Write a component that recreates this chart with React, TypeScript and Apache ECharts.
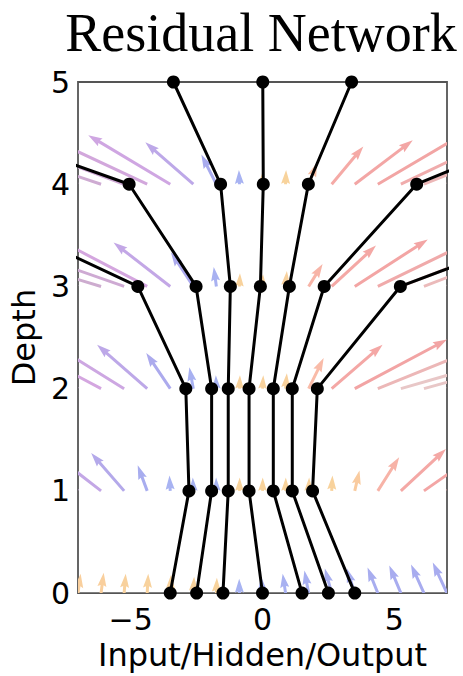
import React, { useEffect, useRef } from "react";
import * as echarts from "echarts";

// Depth levels of the network (y axis)
const DEPTHS = [0, 1, 2, 3, 4, 5];

// Hidden-state trajectories: value at depth 0..5
const TRAJ_1 = [-3.5, -2.79, -2.91, -4.73, -13.0, -24.0];
const TRAJ_2 = [-2.5, -1.93, -1.93, -2.52, -5.06, -16.0];
const TRAJ_3 = [-1.5, -1.3, -1.3, -1.22, -1.59, -3.38];
const TRAJ_4 = [0.0, -0.51, -0.51, -0.08, 0.03, 0.01];
const TRAJ_5 = [1.5, 0.41, 0.41, 1.02, 1.74, 3.38];
const TRAJ_6 = [2.5, 1.13, 1.13, 2.34, 5.85, 15.3];
const TRAJ_7 = [3.5, 1.9, 2.08, 5.23, 15.5, 24.0];
const TRAJECTORIES = [TRAJ_1, TRAJ_2, TRAJ_3, TRAJ_4, TRAJ_5, TRAJ_6, TRAJ_7];

// Quiver grid (x positions of arrow tails)
const QUIVER_X = [-7, -6.125, -5.25, -4.375, -3.5, -2.625, -1.75, -0.875, 0, 0.875, 1.75, 2.625, 3.5, 4.375, 5.25, 6.125, 7];
const QUIVER_DEPTHS = [0, 1, 2, 3, 4];

// Arrow vectors [u, v] (data units) per depth row
const ARROWS_D0 = [[0.1, 0.19], [0.1, 0.2], [0.06, 0.19], [0.04, 0.19], [0.03, 0.18], [0.03, 0.16], [0.02, 0.15], [-0.01, 0.14], [-0.05, 0.16], [-0.11, 0.19], [-0.16, 0.22], [-0.26, 0.24], [-0.3, 0.24], [-0.39, 0.25], [-0.44, 0.27], [-0.49, 0.28], [-0.54, 0.3]];
const ARROWS_D1 = [[-2.8, 0.45], [-2.1, 0.42], [-1.25, 0.37], [-0.36, 0.25], [-0.03, 0.15], [-0.02, 0.13], [-0.01, 0.13], [0.01, 0.13], [0.01, 0.13], [0.01, 0.13], [0.02, 0.13], [0.03, 0.15], [0.18, 0.2], [0.81, 0.33], [1.71, 0.41], [2.6, 0.47], [3.5, 0.5]];
const ARROWS_D2 = [[-5.0, 0.55], [-4.0, 0.55], [-3.0, 0.48], [-1.9, 0.43], [-0.91, 0.35], [-0.15, 0.21], [-0.02, 0.13], [0.02, 0.13], [0.03, 0.13], [0.05, 0.15], [0.57, 0.3], [1.93, 0.43], [3.5, 0.48], [4.8, 0.5], [6.2, 0.46], [7.0, 0.5], [8.0, 0.5]];
const ARROWS_D3 = [[-7.2, 0.5], [-6.3, 0.49], [-5.3, 0.48], [-3.7, 0.5], [-2.15, 0.43], [-0.85, 0.335], [-0.1, 0.19], [0.02, 0.13], [0.02, 0.12], [0.05, 0.15], [0.53, 0.22], [1.68, 0.4], [2.77, 0.46], [3.9, 0.49], [5.0, 0.5], [5.5, 0.55], [7.0, 0.55]];
const ARROWS_D4 = [[-7.4, 0.56], [-6.4, 0.55], [-5.4, 0.52], [-4.3, 0.52], [-3.11, 0.48], [-1.82, 0.41], [-0.57, 0.29], [-0.02, 0.14], [0.0, 0.12], [0.02, 0.14], [0.32, 0.21], [1.2, 0.37], [2.2, 0.43], [3.3, 0.5], [4.3, 0.53], [5.3, 0.55], [6.3, 0.56]];
const ARROW_ROWS = [ARROWS_D0, ARROWS_D1, ARROWS_D2, ARROWS_D3, ARROWS_D4];

// Tick labels
const X_TICKS = [-5, 0, 5];
const TITLE = "Residual Network";
const X_NAME = "Input/Hidden/Output";
const Y_NAME = "Depth";

// colour of an arrow as a function of its on-screen angle (deg from vertical, + = right)
const COLOR_STOPS: [number, number[]][] = [
  [-90, [222, 208, 222]],
  [-74, [204, 172, 206]],
  [-62, [212, 166, 224]],
  [-48, [188, 168, 232]],
  [-30, [168, 170, 238]],
  [-0.001, [168, 180, 242]],
  [0, [248, 212, 156]],
  [12, [249, 204, 158]],
  [25, [249, 188, 168]],
  [40, [245, 170, 166]],
  [62, [242, 164, 164]],
  [72, [232, 196, 196]],
  [90, [232, 220, 220]],
];
function arrowColor(theta: number): string {
  if (theta <= COLOR_STOPS[0][0]) return `rgb(${COLOR_STOPS[0][1].join(",")})`;
  for (let i = 1; i < COLOR_STOPS.length; i++) {
    const [t1, c1] = COLOR_STOPS[i];
    const [t0, c0] = COLOR_STOPS[i - 1];
    if (theta <= t1) {
      const f = t1 === t0 ? 1 : (theta - t0) / (t1 - t0);
      const c = c0.map((v, j) => Math.round(v + (c1[j] - v) * f));
      return `rgb(${c.join(",")})`;
    }
  }
  const last = COLOR_STOPS[COLOR_STOPS.length - 1][1];
  return `rgb(${last.join(",")})`;
}

export default function App() {
  const ref = useRef<HTMLDivElement>(null);
  useEffect(() => {
    if (!ref.current) return;
    const chart = echarts.init(ref.current, undefined, { renderer: "svg" });

    const quiverData: number[][] = [];
    QUIVER_DEPTHS.forEach((d, r) => {
      ARROW_ROWS[r].forEach((uv, k) => {
        quiverData.push([QUIVER_X[k], d, uv[0], uv[1]]);
      });
    });

    const lineSeries = TRAJECTORIES.map((tr) => ({
      type: "line",
      data: tr.map((x, i) => [x, DEPTHS[i]]),
      symbol: "circle",
      symbolSize: 13,
      showSymbol: true,
      clip: true,
      z: 5,
      itemStyle: { color: "#000" },
      lineStyle: { color: "#000", width: 3 },
      emphasis: { disabled: true },
    }));

    const option = {
      animation: false,
      backgroundColor: "#fff",
      grid: {
        left: 78,
        right: 16,
        top: 82,
        bottom: 72,
        show: true,
        borderColor: "#555",
        borderWidth: 1.8,
        backgroundColor: "transparent",
      },
      graphic: [
        {
          type: "text",
          x: 261,
          y: 33,
          style: {
            text: TITLE,
            font: "54px 'Liberation Serif'",
            fill: "#000",
            align: "center",
            verticalAlign: "middle",
          },
        },
      ],
      xAxis: {
        type: "value",
        min: -7,
        max: 7,
        interval: 1,
        name: X_NAME,
        nameLocation: "middle",
        nameGap: 42,
        nameTextStyle: { fontFamily: "DejaVu Sans", fontSize: 32, color: "#000" },
        axisLine: { show: false },
        axisTick: { show: false },
        splitLine: { show: false },
        axisLabel: {
          fontFamily: "DejaVu Sans",
          fontSize: 30,
          color: "#000",
          margin: 11,
          formatter: (v: number) =>
            X_TICKS.includes(v) ? (v < 0 ? "\u2212" + Math.abs(v) : String(v)) : "",
        },
      },
      yAxis: {
        type: "value",
        min: 0,
        max: 5,
        interval: 1,
        name: Y_NAME,
        nameLocation: "middle",
        nameGap: 37,
        nameTextStyle: { fontFamily: "DejaVu Sans", fontSize: 32, color: "#000" },
        axisLine: { show: false },
        axisTick: { show: false },
        splitLine: { show: false },
        axisLabel: { fontFamily: "DejaVu Sans", fontSize: 30, color: "#000", margin: 8 },
      },
      series: [
        {
          type: "custom",
          clip: true,
          z: 1,
          data: quiverData,
          encode: { x: 0, y: 1 },
          renderItem: (params: any, api: any) => {
            const x = api.value(0);
            const y = api.value(1);
            const u = api.value(2);
            const v = api.value(3);
            const p0 = api.coord([x, y]);
            const p1 = api.coord([x + u, y + v]);
            const dx = p1[0] - p0[0];
            const dy = p1[1] - p0[1];
            const L = Math.hypot(dx, dy);
            if (L < 0.5) return null;
            let sw = 3, hl = 14, hal = 12.6, hw = 9;
            if (L < hl) {
              const s = L / hl;
              sw *= s; hl *= s; hal *= s; hw *= s;
            }
            const ux = dx / L, uy = dy / L;
            const nx = -uy, ny = ux;
            const P = (a: number, b: number) => [p0[0] + a * ux + b * nx, p0[1] + a * uy + b * ny];
            const points = [
              P(0, -sw / 2), P(L - hal, -sw / 2), P(L - hl, -hw / 2), P(L, 0),
              P(L - hl, hw / 2), P(L - hal, sw / 2), P(0, sw / 2),
            ];
            const theta = (Math.atan2(dx, -dy) * 180) / Math.PI;
            return {
              type: "polygon",
              shape: { points },
              style: { fill: arrowColor(theta), stroke: "none" },
            };
          },
        },
        ...lineSeries,
      ],
    };
    chart.setOption(option as any);
    return () => chart.dispose();
  }, []);
  return (
    <div
      ref={ref}
      style={{ position: "absolute", left: 0, top: 0, width: 463, height: 676 }}
    />
  );
}
